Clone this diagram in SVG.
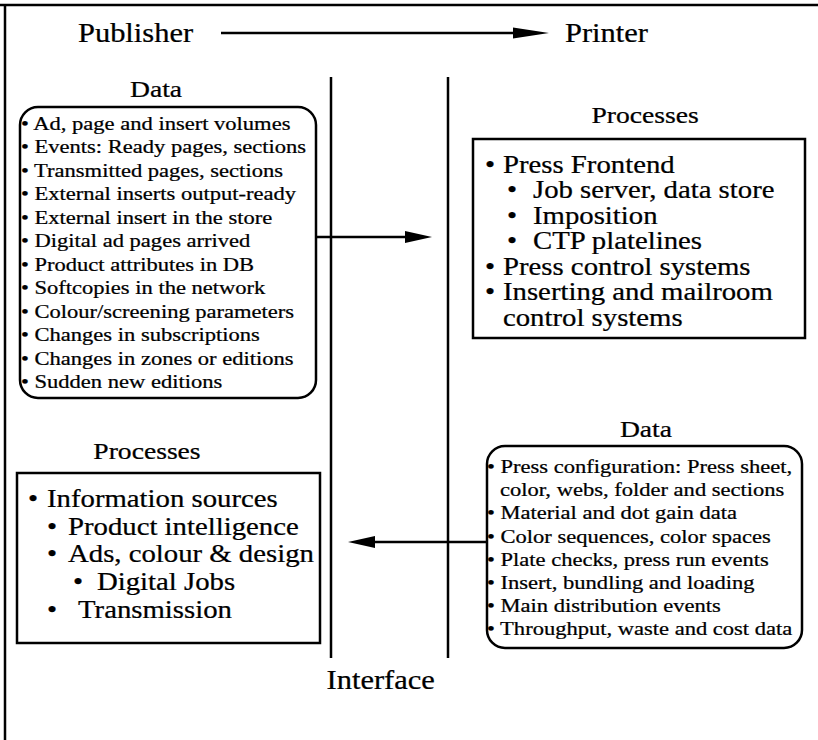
<svg xmlns="http://www.w3.org/2000/svg" width="818" height="740" viewBox="0 0 818 740">
<style>
.t{font-family:"Liberation Serif","Times New Roman",serif;fill:#000;stroke:#000;stroke-width:0.25}
.h{font-size:26.5px}
.hd{font-size:24px;text-anchor:middle}
.sm{font-size:19.6px}
.lg{font-size:25px}
.box{fill:#fff;stroke:#000;stroke-width:2.5}
.ln{stroke:#000;stroke-width:2.5;fill:none}
.ah{fill:#000;stroke:none}
</style>
<rect width="818" height="740" fill="#fff"/>
<g id="frame">
<path class="ln" d="M0,5 H818 M5,4 V740"/>
<path class="ln" d="M331,77 V658 M448,77 V658"/>
</g>
<g id="publisher"><text class="t h" transform="scale(1.15 1)" x="67.8" y="42">Publisher</text></g>
<g id="printer"><text class="t h" transform="scale(1.15 1)" x="491.3" y="42">Printer</text></g>
<g id="interface"><text class="t h" transform="scale(1.15 1)" x="284" y="689">Interface</text></g>
<g id="pub-data">
<rect class="box" x="20" y="107" width="296" height="291" rx="18"/>
<g class="t" transform="scale(1.15 1)">
<text class="hd" x="135.7" y="97">Data</text>
<g class="sm">
<text x="18.26" y="130">• Ad, page and insert volumes</text>
<text x="18.26" y="153.5">• Events: Ready pages, sections</text>
<text x="18.26" y="177">• Transmitted pages, sections</text>
<text x="18.26" y="200.5">• External inserts output-ready</text>
<text x="18.26" y="224">• External insert in the store</text>
<text x="18.26" y="247.5">• Digital ad pages arrived</text>
<text x="18.26" y="271">• Product attributes in DB</text>
<text x="18.26" y="294.5">• Softcopies in the network</text>
<text x="18.26" y="318">• Colour/screening parameters</text>
<text x="18.26" y="341.5">• Changes in subscriptions</text>
<text x="18.26" y="365">• Changes in zones or editions</text>
<text x="18.26" y="388.5">• Sudden new editions</text>
</g>
</g>
</g>
<g id="printer-processes">
<rect class="box" x="473" y="139" width="332" height="199"/>
<g class="t" transform="scale(1.15 1)">
<text class="hd" x="560.9" y="123">Processes</text>
<g class="lg">
<text y="173"><tspan x="421.74">• </tspan><tspan x="437.39">Press Frontend</tspan></text>
<text y="198.5"><tspan x="440.87">• </tspan><tspan x="463.48">Job server, data store</tspan></text>
<text y="224"><tspan x="440.87">• </tspan><tspan x="463.48">Imposition</tspan></text>
<text y="249.5"><tspan x="440.87">• </tspan><tspan x="463.48">CTP platelines</tspan></text>
<text y="275"><tspan x="421.74">• </tspan><tspan x="437.39">Press control systems</tspan></text>
<text y="300.5"><tspan x="421.74">• </tspan><tspan x="437.39">Inserting and mailroom</tspan></text>
<text y="326" x="437.39">control systems</text>
</g>
</g>
</g>
<g id="printer-data">
<rect class="box" x="487" y="446" width="315" height="202" rx="18"/>
<g class="t" transform="scale(1.15 1)">
<text class="hd" x="561.7" y="437">Data</text>
<g class="sm">
<text x="423.48" y="473">• Press configuration: Press sheet,</text>
<text x="434.78" y="496">color, webs, folder and sections</text>
<text x="423.48" y="519">• Material and dot gain data</text>
<text x="423.48" y="543">• Color sequences, color spaces</text>
<text x="423.48" y="566">• Plate checks, press run events</text>
<text x="423.48" y="589">• Insert, bundling and loading</text>
<text x="423.48" y="612">• Main distribution events</text>
<text x="423.48" y="635">• Throughput, waste and cost data</text>
</g>
</g>
</g>
<g id="pub-processes">
<rect class="box" x="17" y="473" width="303" height="170"/>
<g class="t" transform="scale(1.15 1)">
<text class="hd" x="127.8" y="459">Processes</text>
<g class="lg">
<text y="507"><tspan x="24.35">• </tspan><tspan x="40.87">Information sources</tspan></text>
<text y="535"><tspan x="40.87">• </tspan><tspan x="59.13">Product intelligence</tspan></text>
<text y="562"><tspan x="40.87">• </tspan><tspan x="59.13">Ads, colour &amp; design</tspan></text>
<text y="590"><tspan x="63.48">• </tspan><tspan x="84.35">Digital Jobs</tspan></text>
<text y="618"><tspan x="40.87">• </tspan><tspan x="67.83">Transmission</tspan></text>
</g>
</g>
</g>
<g id="connectors">
<line class="ln" x1="221" y1="33" x2="516" y2="33"/>
<polygon class="ah" points="549,33 513,27.5 513,38.5"/>
<line class="ln" x1="316" y1="237" x2="408" y2="237"/>
<polygon class="ah" points="432,237 405,231 405,243"/>
<line class="ln" x1="487" y1="542" x2="372" y2="542"/>
<polygon class="ah" points="348,542 375,536 375,548"/>
</g>
</svg>
